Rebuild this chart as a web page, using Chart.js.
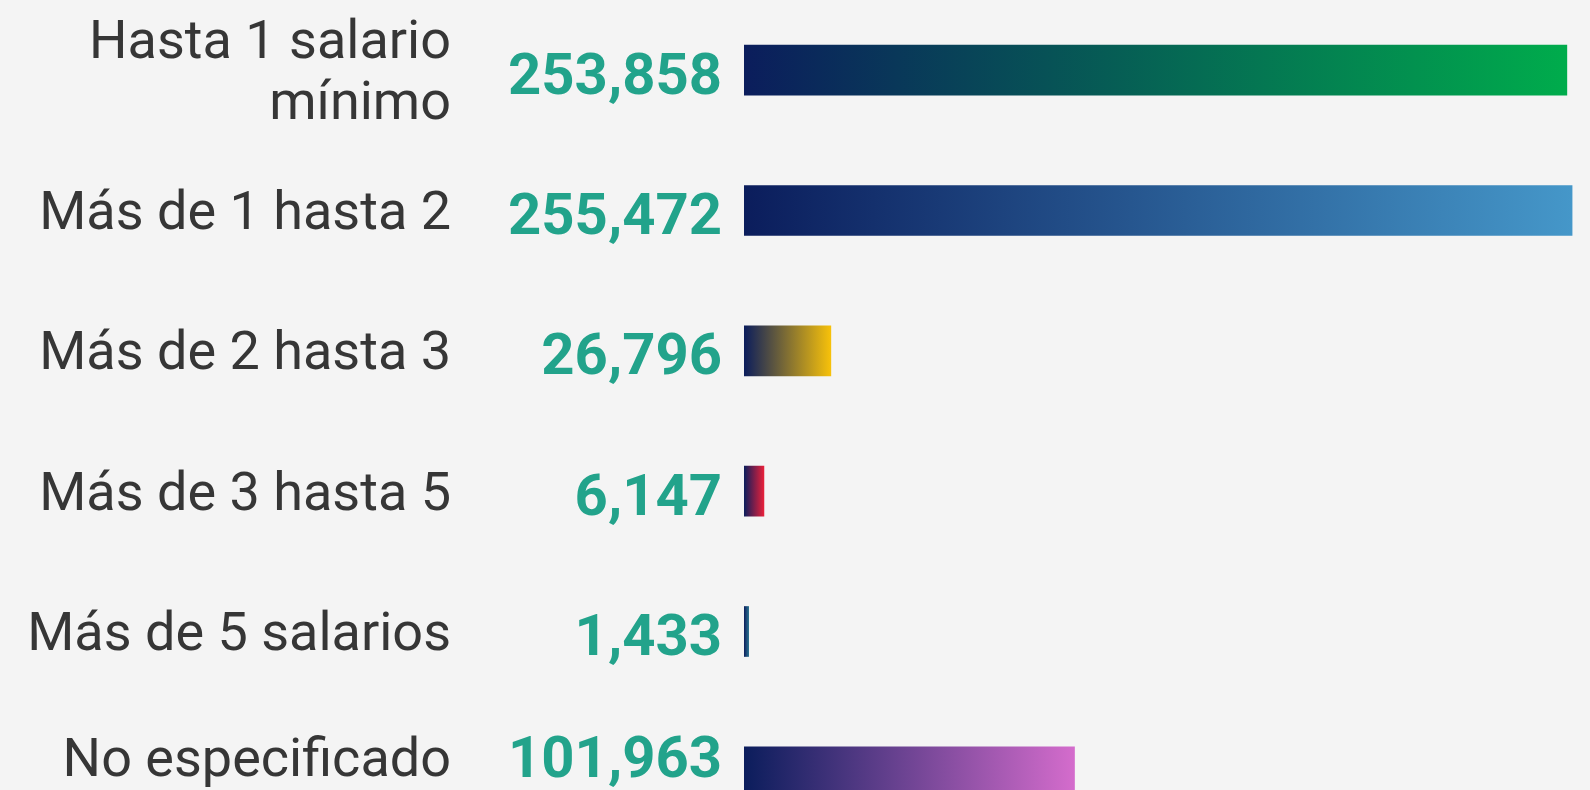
<!DOCTYPE html>
<html>
<head>
<meta charset="utf-8">
<script src="https://cdn.jsdelivr.net/npm/chart.js@4.4.0/dist/chart.umd.min.js"></script>
<style>
  html, body { margin: 0; padding: 0; background: #f4f4f4; overflow: hidden; }
  #wrap { width: 1590px; height: 842px; position: relative; }
</style>
</head>
<body>
<div id="wrap"><canvas id="salarios"></canvas></div>
<script>
// rangos de ingreso
const categorias = [
  ["Hasta 1 salario", "mínimo"],
  "Más de 1 hasta 2",
  "Más de 2 hasta 3",
  "Más de 3 hasta 5",
  "Más de 5 salarios",
  "No especificado",
];
const valores = [253858, 255472, 26796, 6147, 1433, 101963];
// color final de cada degradado
const coloresFin = ["#00ac4c", "#4597c9", "#f7c10a", "#e8203a", "#2a6f8e", "#d46ccc"];
const colorInicio = "#0b1d5c";

function degradado(ctx) {
  const chart = ctx.chart;
  if (!chart.chartArea) return colorInicio;
  const x0 = chart.scales.x.getPixelForValue(0);
  const x1 = chart.scales.x.getPixelForValue(valores[ctx.dataIndex]);
  const g = chart.ctx.createLinearGradient(x0, 0, Math.max(x1, x0 + 1), 0);
  g.addColorStop(0, colorInicio);
  g.addColorStop(1, coloresFin[ctx.dataIndex]);
  return g;
}

// textos de cada fila: rango en gris, numero en verde
const textosFila = {
  id: "textosFila",
  afterDatasetsDraw(chart) {
    const c = chart.ctx;
    const meta = chart.getDatasetMeta(0);
    const izq = chart.chartArea.left;
    const alto = window.innerHeight; // la ultima fila queda cortada, el texto no
    c.save();
    c.textAlign = "right";
    c.textBaseline = "middle";
    meta.data.forEach((bar, i) => {
      // etiqueta
      c.font = "54px Roboto";
      c.fillStyle = "#363636";
      const yl = Math.min(bar.y + 5, alto - 28);
      const lineas = [].concat(categorias[i]);
      const lh = 61;
      lineas.forEach((t, k) => {
        c.fillText(t, izq - 293, yl + (k - (lineas.length - 1) / 2) * lh);
      });
      // valor
      c.font = "bold 58px Roboto";
      c.fillStyle = "#22a38b";
      const yv = Math.min(bar.y + 9, alto - 28);
      c.fillText(valores[i].toLocaleString("en-US"), izq - 22, yv);
    });
    c.restore();
  },
};

new Chart(document.getElementById("salarios"), {
  type: "bar",
  data: {
    labels: categorias,
    datasets: [{
      data: valores,
      backgroundColor: degradado,
      barThickness: 50,
      borderWidth: 0,
    }],
  },
  options: {
    indexAxis: "y",
    responsive: true,
    maintainAspectRatio: false,
    animation: false,
    layout: { padding: { left: 744 } },
    plugins: { legend: { display: false }, tooltip: { enabled: false } },
    scales: {
      x: { display: false, min: 0, max: 261000 },
      y: { display: false },
    },
  },
  plugins: [textosFila],
});
</script>
</body>
</html>
